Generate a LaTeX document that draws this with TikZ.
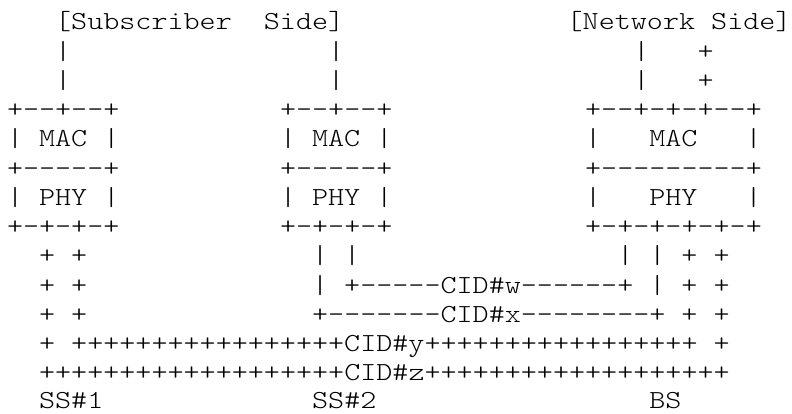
\documentclass[tikz,border=0pt]{standalone}
\usepackage{fontspec}
\usepackage{tikz}
\newfontfamily\asciifont{lmmonolt10-regular.otf}[FakeStretch=1.1766, Ligatures=TeXOff]
\tikzset{
    ascii/.style={anchor=base west, inner sep=0pt, outer sep=0pt, text=black, font={\asciifont\fontsize{26pt}{29pt}\selectfont}},
    sidelabel/.style={ascii},
    stack/.style={ascii},
    link/.style={ascii},
    station/.style={ascii}
}

\begin{document}
\begin{tikzpicture}[x=16.06pt, y=-29.23pt]

\path[use as bounding box, fill=white] (-0.436,-0.026) rectangle (48.88,14.137);

% Side labels
\node (subside) [sidelabel] at (3,1) {[Subscriber~~Side]};
\node (netside) [sidelabel] at (34.85,1) {[Network Side]};

% Upper links
\node (subupa) [link] at (3,2) {|};
\node (subupb) [link] at (20,2) {|};
\node (netupa) [link] at (39,2) {|};
\node (netupb) [link] at (43,2) {+};
\node (subupc) [link] at (3,3) {|};
\node (subupd) [link] at (20,3) {|};
\node (netupc) [link] at (39,3) {|};
\node (netupd) [link] at (43,3) {+};

% SS#1 stack
\node (ssonetop) [stack] at (0,4) {+--+--+};
\node (ssonemac) [stack] at (0,5) {| MAC |};
\node (ssonemid) [stack] at (0,6) {+-----+};
\node (ssonephy) [stack] at (0,7) {| PHY |};
\node (ssonebot) [stack] at (0,8) {+-+-+-+};

% SS#2 stack
\node (sstwotop) [stack] at (17,4) {+--+--+};
\node (sstwomac) [stack] at (17,5) {| MAC |};
\node (sstwomid) [stack] at (17,6) {+-----+};
\node (sstwophy) [stack] at (17,7) {| PHY |};
\node (sstwobot) [stack] at (17,8) {+-+-+-+};

% BS stack
\node (bstop) [stack] at (36,4) {+--+-+-+--+};
\node (bsmac) [stack] at (36,5) {|~~~MAC~~~|};
\node (bsmid) [stack] at (36,6) {+---------+};
\node (bsphy) [stack] at (36,7) {|~~~PHY~~~|};
\node (bsbot) [stack] at (36,8) {+-+-+-+-+-+};

% Lower links and connections
\node (ssonelinka) [link] at (2,9) {+ +};
\node (sstwolinka) [link] at (19,9) {| |};
\node (bslinka) [link] at (38,9) {| | + +};
\node (ssonelinkb) [link] at (2,10) {+ +};
\node (cidw) [link] at (19,10) {| +-----CID\#w------+ | + +};
\node (ssonelinkc) [link] at (2,11) {+ +};
\node (cidx) [link] at (19,11) {+-------CID\#x--------+ + +};
\node (cidy) [link] at (2,12) {+ +++++++++++++++++CID\#y+++++++++++++++++ +};
\node (cidz) [link] at (2,13) {+++++++++++++++++++CID\#z+++++++++++++++++++};

% Station names
\node (ssone) [station] at (2,13.94) {SS\#1};
\node (sstwo) [station] at (19,13.94) {SS\#2};
\node (bs) [station] at (40,13.94) {BS};

\end{tikzpicture}
\end{document}
